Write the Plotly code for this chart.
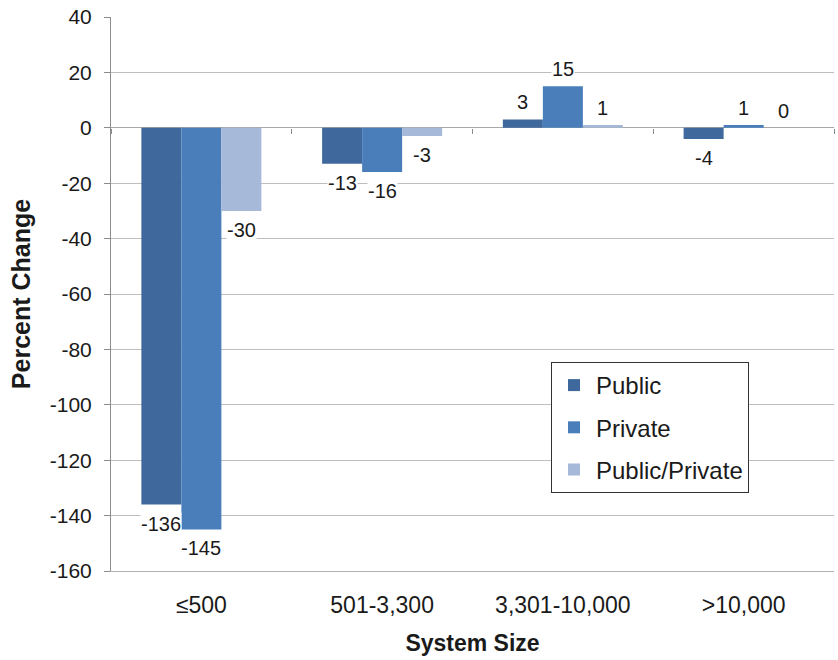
import plotly.graph_objects as go

categories = ["≤500", "501-3,300", "3,301-10,000", ">10,000"]
public = [-136, -13, 3, -4]
private = [-145, -16, 15, 1]
public_private = [-30, -3, 1, 0]
series_names = ["Public", "Private", "Public/Private"]
series_colors = ["#3F699C", "#4A7EBB", "#A7B9D9"]
y_ticks = [40, 20, 0, -20, -40, -60, -80, -100, -120, -140, -160]
y_min, y_max = -160, 40

W, H = 838, 660
L, R, T, B = 111, 4, 17, 89
plot_w = W - L - R
plot_h = H - T - B
bargap = 0.336
n_series = 3
bar_px = plot_w / len(categories) * (1 - bargap) / n_series

FONT = "Liberation Sans, Arial, sans-serif"
TXT = "#1a1a1a"
fig = go.Figure()
all_series = [public, private, public_private]
for i, (name, vals, col) in enumerate(zip(series_names, all_series, series_colors)):
    fig.add_trace(go.Bar(
        x=categories, y=vals, name=name, marker_color=col, marker_line_width=0,
        legendgroup=name, xaxis="x", yaxis="y"))

# invisible trace on overlay axis (for category boundary ticks at the zero line)
fig.add_trace(go.Scatter(x=categories, y=[0] * len(categories), xaxis="x2", yaxis="y",
                         mode="markers", marker_opacity=0, showlegend=False, hoverinfo="skip"))

annotations = []
for i, vals in enumerate(all_series):
    for c, v in zip(categories, vals):
        annotations.append(dict(
            x=c, y=v, xref="x", yref="y", text=str(v), showarrow=False,
            xshift=(i - 1) * bar_px, yshift=(-19 if v < 0 else 17),
            font=dict(family=FONT, size=20, color=TXT),
            bgcolor="white", borderpad=0))

fig.update_layout(
    width=W, height=H,
    margin=dict(l=L, r=R, t=T, b=B),
    paper_bgcolor="white", plot_bgcolor="white",
    barmode="group", bargap=bargap, bargroupgap=0,
    font=dict(family=FONT, size=20, color=TXT),
    annotations=annotations,
    xaxis=dict(
        type="category", categoryarray=categories, range=[-0.5, len(categories) - 0.5],
        showgrid=False, showline=True, linecolor="#B0B0B0", linewidth=1,
        ticks="", tickfont=dict(size=23), ticklabelstandoff=13, automargin=False,
        title=dict(text="<b>System Size</b>", font=dict(size=23), standoff=18),
    ),
    xaxis2=dict(
        type="category", categoryarray=categories, range=[-0.5, len(categories) - 0.5],
        overlaying="x", anchor="free", position=(0 - y_min) / (y_max - y_min),
        tickson="boundaries", ticks="outside", ticklen=5, tickcolor="#8C8C8C",
        showticklabels=False, showgrid=False, showline=False, zeroline=False,
    ),
    yaxis=dict(
        range=[y_min, y_max], tickmode="array", tickvals=y_ticks,
        ticktext=[str(v) for v in y_ticks], ticklabeloverflow="allow",
        showgrid=True, gridcolor="#BEBEBE", gridwidth=1,
        zeroline=True, zerolinecolor="#A8A8A8", zerolinewidth=1,
        showline=True, linecolor="#8C8C8C", linewidth=1,
        ticks="outside", ticklen=6, tickcolor="#8C8C8C", automargin=False,
        tickfont=dict(size=21), ticklabelstandoff=8,
        title=dict(text="<b>Percent Change</b>", font=dict(size=25), standoff=12),
    ),
    legend=dict(
        x=(551 - L) / plot_w, y=(H - B - 362) / plot_h, xanchor="left", yanchor="top",
        bgcolor="white", bordercolor="#333333", borderwidth=1,
        font=dict(size=24), tracegroupgap=8, traceorder="grouped",
        itemwidth=34,
    ),
    showlegend=True,
)

fig.write_html(
    "out.html",
    config={"displayModeBar": False},
    post_script="document.body.style.margin='0';document.body.style.overflow='hidden';",
)
